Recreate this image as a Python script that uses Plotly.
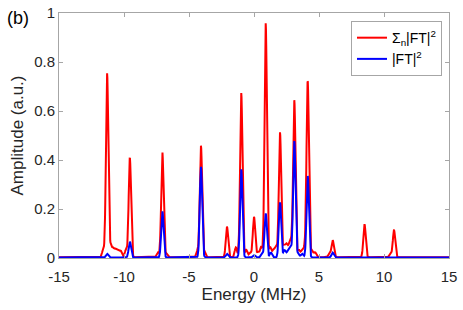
import numpy as np
import plotly.graph_objects as go

# ---- data ----
red_centers = [-11.3, -9.55, -7.05, -4.08, -2.08, -0.98, 0.0, 0.9, 2.0, 3.1, 4.13, 6.05, 8.5, 10.77,
               -11.6, -11.05, -10.85, -10.65, -10.45, -10.25, -9.85, -7.4, -6.75, -4.35, -3.8,
               -1.4, -0.6, -0.3, 0.3, 0.55, 1.25, 1.5, 1.7, 2.3, 2.5, 2.7, 2.85, 3.45, 3.7, 3.9, 4.45, 4.7, 5.8, 10.5]
red_heights = [0.75, 0.405, 0.43, 0.455, 0.125, 0.67, 0.165, 0.955, 0.51, 0.64, 0.72, 0.07, 0.135, 0.11,
               0.03, 0.045, 0.035, 0.03, 0.025, 0.025, 0.03, 0.02, 0.015, 0.025, 0.02,
               0.04, 0.03, 0.02, 0.02, 0.045, 0.04, 0.03, 0.04, 0.045, 0.05, 0.04, 0.055, 0.03, 0.03, 0.035, 0.03, 0.02, 0.015, 0.015]
blue_centers = [-11.3, -9.55, -7.05, -4.08, -2.08, -0.98, 0.0, 0.9, 2.0, 3.1, 4.13, 6.05,
                1.3, 2.35, 2.6, 2.8, 0.6, 3.4, 3.7]
blue_heights = [0.015, 0.065, 0.19, 0.37, 0.015, 0.36, 0.01, 0.18, 0.225, 0.475, 0.335, 0.02,
                0.02, 0.03, 0.025, 0.04, 0.015, 0.015, 0.015]
x_ticks = [-15, -10, -5, 0, 5, 10, 15]
x_tick_labels = ["-15", "-10", "-5", "0", "5", "10", "15"]
y_ticks = [0, 0.2, 0.4, 0.6, 0.8, 1]
y_tick_labels = ["0", "0.2", "0.4", "0.6", "0.8", "1"]

energy = np.linspace(-15, 15, 1501)
width = 0.09


def spectrum(centers, heights):
    s = np.zeros_like(energy)
    for c, h in zip(centers, heights):
        s += h * np.exp(-0.5 * ((energy - c) / width) ** 2)
    return s


red = spectrum(red_centers, red_heights) + 0.003
blue = spectrum(blue_centers, blue_heights) + 0.002

FONT = "Liberation Sans, Arial, sans-serif"

fig = go.Figure()
fig.add_trace(go.Scatter(x=energy, y=red, mode="lines", line=dict(color="#ff0000", width=2),
                         name="Σ<sub>n</sub>|FT|<sup>2</sup>"))
fig.add_trace(go.Scatter(x=energy, y=blue, mode="lines", line=dict(color="#0000ff", width=2),
                         name="|FT|<sup>2</sup>"))

axcommon = dict(showline=True, linecolor="#a6a6a6", linewidth=1, mirror="ticks", ticks="inside",
                ticklen=4, tickcolor="#a6a6a6", showgrid=False, zeroline=False, automargin=False,
                tickfont=dict(family=FONT, size=15, color="#262626"))

fig.update_layout(
    width=463, height=310,
    margin=dict(l=59, r=14, t=13, b=52),
    paper_bgcolor="white", plot_bgcolor="white",
    font=dict(family=FONT, color="#262626"),
    xaxis=dict(range=[-15, 15], tickvals=x_ticks, ticktext=x_tick_labels, ticklabelstandoff=5,
               title=dict(text="Energy (MHz)", font=dict(size=17), standoff=2), **axcommon),
    yaxis=dict(range=[0, 1], tickvals=y_ticks, ticktext=y_tick_labels,
               title=dict(text="Amplitude (a.u.)", font=dict(size=17), standoff=6), **axcommon),
    legend=dict(x=0.982, y=0.967, xanchor="right", yanchor="top", bgcolor="white",
                bordercolor="#a6a6a6", borderwidth=1, font=dict(family=FONT, size=14, color="#000000"),
                tracegroupgap=0, itemwidth=30),
    showlegend=True,
    annotations=[dict(text="(b)", xref="paper", yref="paper", x=-0.138, y=0.98, xanchor="left",
                      yanchor="middle", showarrow=False, font=dict(family=FONT, size=18, color="#000000"))],
)

fig.write_html("out.html", config={"displayModeBar": False},
               post_script="document.body.style.margin='0';document.body.style.padding='0';")
